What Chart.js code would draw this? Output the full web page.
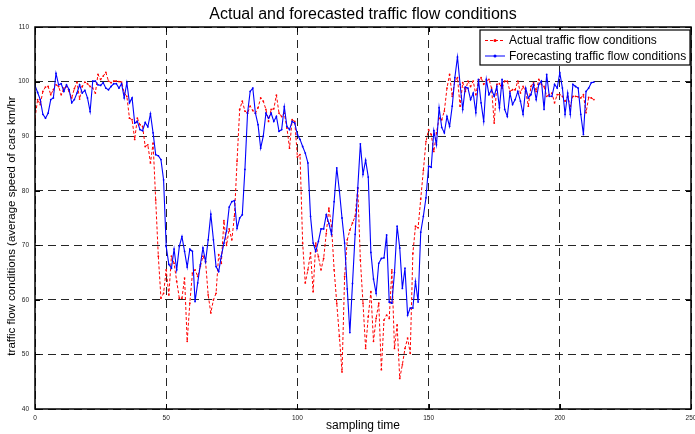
<!DOCTYPE html>
<html>
<head>
<meta charset="utf-8">
<script src="https://cdn.jsdelivr.net/npm/chart.js@4.4.1/dist/chart.umd.min.js"></script>
<style>
  html, body { margin: 0; padding: 0; background: #fff; }
</style>
</head>
<body>
<canvas id="traffic-chart" width="695" height="434"></canvas>
<script>
const chartTitle = 'Actual and forecasted traffic flow conditions';
const xTitle = 'sampling time';
const yTitle = 'traffic flow conditions (average speed of cars km/hr';
const seriesNames = ['Actual traffic flow conditions', 'Forecasting traffic flow conditions'];
const xTicks = [0, 50, 100, 150, 200, 250];
const yTicks = [40, 50, 60, 70, 80, 90, 100, 110];

// values, one per sampling step
const actualFlow = [
    93.3, 96.7, 95.8, 98.2, 99, 99.1, 97.6, 98.5, 99.4, 99.1,
    97.6, 98.8, 99.1, 98.2, 97, 98.7, 99.9, 96.8, 99.1, 99.9,
    99.6, 99.1, 98.8, 97.9, 101.3, 100.4, 101, 101.7, 100.1, 99.8,
    100.1, 100.1, 100, 99.9, 97.9, 97.3, 93.3, 93, 89.4, 93.3,
    92.1, 91.8, 88.1, 88.4, 85.1, 88.7, 78.3, 68, 60.3, 61.2,
    65.5, 60.9, 68, 66.7, 63.4, 60.3, 60.3, 64, 52.4, 59.4,
    64.9, 65.5, 64.3, 66.1, 68, 67, 60.9, 57.6, 60, 61.2,
    68.3, 66.7, 74.5, 70, 73, 71, 75.3, 85.4, 94.9, 96.4,
    94.6, 94.2, 95.5, 94.7, 94.2, 95.2, 97, 96.4, 94.9, 92.7,
    94.9, 95, 97.5, 94.2, 93.6, 94.2, 91.5, 87.8, 93, 92.7,
    86.2, 86.6, 70.4, 63.1, 65.5, 68.6, 61.5, 70.4, 67.9, 65.5,
    67.6, 72.2, 76.8, 73.5, 65.5, 59.4, 53.3, 46.8, 64.3, 71,
    72.8, 74.1, 75.3, 80.5, 67.3, 59.4, 51.1, 56.9, 61.5, 52.4,
    56.6, 59.4, 47.2, 56.3, 57.2, 56.6, 65.5, 51.1, 55.4, 45.6,
    48.1, 51.1, 53, 50.2, 68.5, 73.5, 73.2, 78.5, 83.7, 89,
    91.2, 90.3, 87.2, 90.6, 93.3, 93, 94.6, 98.8, 101.3, 97.3,
    100.1, 100.7, 95.5, 99.8, 98.2, 100.1, 99.1, 100.1, 97.6, 100.1,
    100.7, 99.5, 100.1, 100.4, 98.8, 92.4, 99.5, 99.6, 98.8, 100.1,
    100.1, 98.2, 98.5, 98.5, 100.1, 97.9, 99.1, 98.2, 95.5, 99.1,
    99.8, 98.2, 100.4, 99.5, 99.1, 97.3, 97.6, 97.9, 96.1, 97.6,
    97.6, 97.3, 96.4, 97.3, 95.5, 97.3, 97.3, 97.2, 97, 97.6,
    94.3, 97.1, 97, 96.7
];

const forecastFlow = [
    99.3, 98, 96.7, 94, 93.3, 94.2, 96.7, 97, 101.5, 99.4,
    99.6, 98.2, 99.4, 98.5, 96.1, 96.7, 97.9, 99.4, 97.9, 98.4,
    97, 94.5, 100.1, 100.1, 99.4, 99.3, 99.8, 98.8, 98.5, 99.1,
    99.6, 99.6, 98.8, 99.6, 97, 99.8, 96.1, 97, 92.4, 92.7,
    91.2, 91, 92.5, 91.7, 94.1, 90.6, 86.6, 86.4, 85.7, 82,
    69.8, 66.5, 65.8, 69.3, 65.5, 69.8, 71.6, 68.9, 66, 69.3,
    68.9, 59.7, 63.1, 66.4, 69.5, 67, 71, 75.7, 71, 66.1,
    65.2, 68, 70.4, 72.6, 77, 78, 78.2, 73.1, 75, 75.6,
    83.9, 94.2, 98.2, 98.8, 94.2, 92.1, 87.8, 90, 94.2, 93.3,
    94.2, 92.7, 93.6, 90.9, 91.2, 95.4, 91.8, 91.2, 92.7, 92.4,
    90.3, 89.4, 88.1, 86.9, 85.1, 75.3, 70.4, 68.9, 70.7, 73,
    73, 75.6, 74, 72, 78, 84.2, 80, 75, 70.4, 62,
    54, 63, 72, 80.5, 88.6, 83, 85.6, 82.5, 68.7, 63.8,
    61.2, 66.7, 67.6, 67.7, 71.9, 59.6, 59.4, 65, 73.5, 69.5,
    62.1, 65.8, 57.2, 58.5, 58.5, 63.4, 59.6, 72.4, 75.3, 78.7,
    84.5, 84.3, 91, 88.4, 95.2, 91.6, 90.6, 93.6, 91.8, 95.5,
    100.7, 104.5, 99.5, 94.9, 99, 98.8, 96.7, 97.9, 94.3, 100.4,
    96.1, 92.7, 100.4, 97.6, 98.5, 97.3, 99.1, 95.2, 100.4, 94.9,
    93.6, 97.9, 95.8, 96.7, 98.2, 96.4, 94, 98.8, 97, 97.6,
    99.5, 96.7, 99.5, 100.1, 94.9, 101.3, 97.3, 97.3, 99.5, 98.8,
    101.6, 98.8, 94, 97.9, 94, 99.5, 99.1, 98.8, 94, 90.3,
    98.2, 98.8, 99.8, 99.9
];

const FONT = "'Liberation Sans', Arial, sans-serif";

// matlab-ish frame: box, inward ticks, legend and titles
const matlabFrame = {
    id: 'matlabFrame',
    afterDatasetsDraw(chart) {
        const { ctx, chartArea: a, scales: { x, y } } = chart;
        ctx.save();
        ctx.strokeStyle = '#000';
        ctx.lineWidth = 1;
        ctx.beginPath();
        xTicks.forEach(v => {
            const px = Math.round(x.getPixelForValue(v)) + 0.5;
            ctx.moveTo(px, a.bottom); ctx.lineTo(px, a.bottom - 5);
            ctx.moveTo(px, a.top); ctx.lineTo(px, a.top + 5);
        });
        yTicks.forEach(v => {
            const py = Math.round(y.getPixelForValue(v)) + 0.5;
            ctx.moveTo(a.left, py); ctx.lineTo(a.left + 5, py);
            ctx.moveTo(a.right, py); ctx.lineTo(a.right - 5, py);
        });
        ctx.stroke();

        ctx.lineWidth = 1.5;
        ctx.strokeRect(a.left, a.top, a.right - a.left, a.bottom - a.top);

        // legend box
        const lx = a.right - 211, ly = a.top + 3, lw = 210, lh = 35;
        ctx.fillStyle = '#fff';
        ctx.fillRect(lx, ly, lw, lh);
        ctx.lineWidth = 1.2;
        ctx.strokeRect(lx, ly, lw, lh);
        const rows = [
            { name: seriesNames[0], color: '#ff0000', dash: [3, 2], y: ly + 10.5 },
            { name: seriesNames[1], color: '#0000ff', dash: [], y: ly + 26 }
        ];
        ctx.font = '12px ' + FONT;
        ctx.textBaseline = 'middle';
        ctx.textAlign = 'left';
        rows.forEach(r => {
            ctx.strokeStyle = r.color;
            ctx.lineWidth = 1;
            ctx.setLineDash(r.dash);
            ctx.beginPath();
            ctx.moveTo(lx + 5, r.y); ctx.lineTo(lx + 25, r.y);
            ctx.stroke();
            ctx.setLineDash([]);
            ctx.fillStyle = r.color;
            ctx.beginPath();
            ctx.arc(lx + 15, r.y, 1.5, 0, Math.PI * 2);
            ctx.fill();
            ctx.fillStyle = '#000';
            ctx.fillText(r.name, lx + 29, r.y + 0.5);
        });

        // titles
        const cx = (a.left + a.right) / 2;
        ctx.fillStyle = '#000';
        ctx.textAlign = 'center';
        ctx.font = '16px ' + FONT;
        ctx.fillText(chartTitle, cx, 15);
        ctx.font = '12px ' + FONT;
        ctx.fillText(xTitle, cx, 426);
        ctx.save();
        ctx.translate(12, 226);
        ctx.rotate(-Math.PI / 2);
        ctx.font = '11.5px ' + FONT;
        ctx.fillText(yTitle, 0, 0);
        ctx.restore();
        ctx.restore();
    }
};

const gridStyle = { color: 'rgba(0,0,0,0.85)', lineWidth: 1, drawTicks: false };
const tickFont = { size: 6.5, family: FONT };

new Chart(document.getElementById('traffic-chart').getContext('2d'), {
    type: 'line',
    data: {
        datasets: [{
            label: seriesNames[0],
            data: actualFlow.map((v, i) => ({ x: i, y: v })),
            borderColor: '#ff0000',
            borderWidth: 1,
            borderDash: [3, 2],
            pointRadius: 0.9,
            pointBorderWidth: 0,
            pointBackgroundColor: '#ff0000',
            tension: 0,
            fill: false,
            order: 2
        }, {
            label: seriesNames[1],
            data: forecastFlow.map((v, i) => ({ x: i, y: v })),
            borderColor: '#0000ff',
            borderWidth: 1.1,
            pointRadius: 0.9,
            pointBorderWidth: 0,
            pointBackgroundColor: '#0000ff',
            tension: 0,
            fill: false,
            order: 1
        }]
    },
    options: {
        responsive: false,
        animation: false,
        devicePixelRatio: 1,
        layout: { padding: { top: 27, right: 3, bottom: 0, left: 0 } },
        plugins: { legend: { display: false }, tooltip: { enabled: false } },
        scales: {
            x: {
                type: 'linear', min: 0, max: 250,
                afterBuildTicks: s => { s.ticks = xTicks.map(v => ({ value: v })); },
                ticks: { font: tickFont, color: '#222', padding: 5, maxRotation: 0, autoSkip: false },
                grid: gridStyle,
                border: { display: false, dash: [8, 5] },
                afterFit: s => { s.height = 25; s.paddingLeft = 0; s.paddingRight = 0; }
            },
            y: {
                min: 40, max: 110,
                afterBuildTicks: s => { s.ticks = yTicks.map(v => ({ value: v })); },
                ticks: { font: tickFont, color: '#222', padding: 6, autoSkip: false },
                grid: gridStyle,
                border: { display: false, dash: [8, 5] },
                afterFit: s => { s.width = 35; s.paddingTop = 0; s.paddingBottom = 0; }
            }
        }
    },
    plugins: [matlabFrame]
});
</script>
</body>
</html>
